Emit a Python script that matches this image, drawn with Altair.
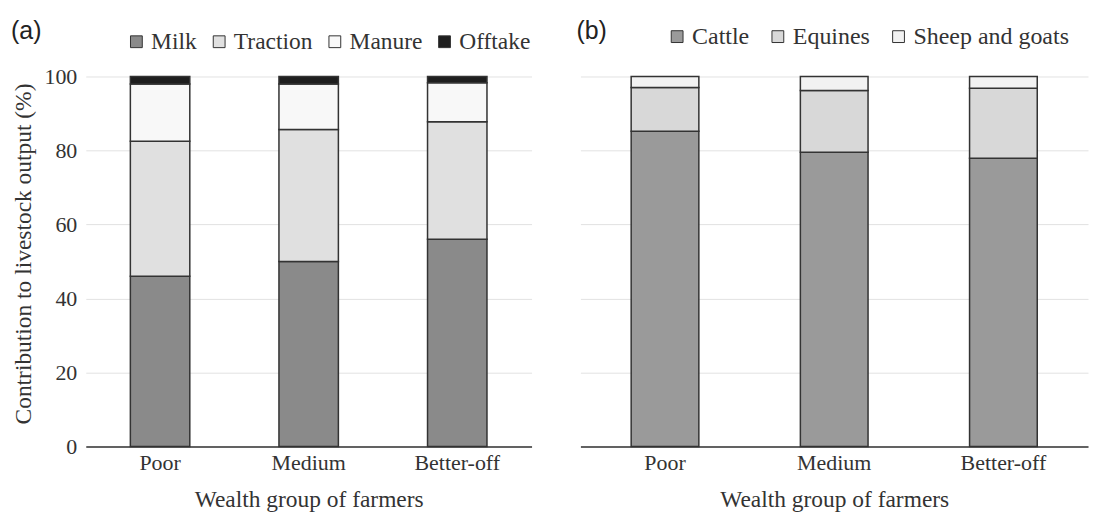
import altair as alt
import pandas as pd

groups = ["Poor", "Medium", "Better-off"]

# Panel (a): output type shares (%)
output_types = ["Milk", "Traction", "Manure", "Offtake"]
milk = [46.0, 50.0, 56.0]
traction = [36.5, 35.7, 31.8]
manure = [15.5, 12.3, 10.5]
offtake = [2.0, 2.0, 1.7]
colors_a = ["#8a8a8a", "#e0e0e0", "#f8f8f8", "#1e1e1e"]

# Panel (b): species shares (%)
species = ["Cattle", "Equines", "Sheep and goats"]
cattle = [85.2, 79.5, 77.9]
equines = [11.8, 16.7, 18.9]
sheep = [3.0, 3.8, 3.2]
colors_b = ["#9a9a9a", "#d8d8d8", "#f2f2f2"]

SERIF = "Liberation Serif"
SANS = "Liberation Sans"
FS = 22

rows_a = []
for k, (name, vals) in enumerate(zip(output_types, [milk, traction, manure, offtake])):
    for g, v in zip(groups, vals):
        rows_a.append({"group": g, "type": name, "value": v, "idx": k})
df_a = pd.DataFrame(rows_a)

rows_b = []
for k, (name, vals) in enumerate(zip(species, [cattle, equines, sheep])):
    for g, v in zip(groups, vals):
        rows_b.append({"group": g, "type": name, "value": v, "idx": k})
df_b = pd.DataFrame(rows_b)

H = 371
xscale = alt.Scale(paddingInner=0.6, paddingOuter=0.3)
yscale = alt.Scale(domain=[0, 100], nice=False)


def make_panel(df, domain, rng, width, label, legend_x, legend_y, col_pad, leg_fs, show_y):
    x = alt.X("group:N", sort=groups, scale=xscale,
              axis=alt.Axis(title="Wealth group of farmers", labelAngle=0, ticks=False,
                            labelPadding=6, titlePadding=14, domain=True,
                            domainColor="#333333", domainWidth=1.5, grid=False))
    if show_y:
        yaxis = alt.Axis(title="Contribution to livestock output (%)", values=[0, 20, 40, 60, 80, 100],
                         ticks=False, domain=False, labelPadding=9, titlePadding=8,
                         titleY=H / 2 - 8,
                         grid=True, gridColor="#e2e2e2", gridWidth=1)
    else:
        yaxis = alt.Axis(title=None, values=[0, 20, 40, 60, 80, 100], ticks=False, domain=False,
                         labels=False, grid=True, gridColor="#e2e2e2", gridWidth=1)
    bars = alt.Chart(df).mark_bar(stroke="#333333", strokeWidth=1.5).encode(
        x=x,
        y=alt.Y("value:Q", stack="zero", scale=yscale, axis=yaxis),
        color=alt.Color("type:N", scale=alt.Scale(domain=domain, range=rng),
                        legend=alt.Legend(title=None, orient="none", direction="horizontal",
                                          legendX=legend_x, legendY=legend_y,
                                          symbolType="square", symbolSize=140,
                                          symbolStrokeColor="#333333", symbolStrokeWidth=1,
                                          labelFont=SERIF, labelFontSize=leg_fs, labelColor="#333333",
                                          labelOffset=3, columnPadding=col_pad)),
        order=alt.Order("idx:Q", sort="ascending"),
    )
    txt = alt.Chart(pd.DataFrame({"t": [label]})).mark_text(
        font=SANS, fontSize=25, align="left", baseline="top", color="#222222"
    ).encode(text="t:N", x=alt.value(-75 if show_y else -4), y=alt.value(-58))
    return alt.layer(bars, txt).properties(width=width, height=H)


pa = make_panel(df_a, output_types, colors_a, 447, "(a)", 39, -47, 10, 23.5, True)
pb = make_panel(df_b, species, colors_b, 509, "(b)", 85, -52, 16, 24, False)

chart = alt.hconcat(pa, pb, spacing=49, bounds="flush").resolve_scale(color="independent").properties(
    padding={"left": 3, "top": 10, "right": 2, "bottom": 2}
).configure_axis(
    labelFont=SERIF, labelFontSize=FS, labelColor="#333333",
    titleFont=SERIF, titleFontSize=23.5, titleFontWeight="normal", titleColor="#333333"
).configure_view(stroke=None)

chart.save("out.html", embed_options={"renderer": "svg", "actions": False})
